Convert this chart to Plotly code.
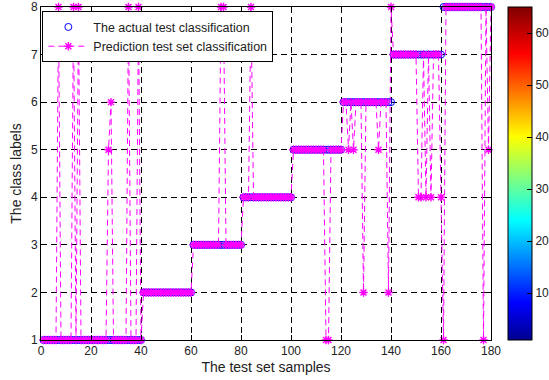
import plotly.graph_objects as go

# sample index (1..180)
samples = list(range(1, 181))

# actual class labels of the test set
actual_labels = (
    [1, 1, 1, 1, 1, 1, 1, 1, 1, 1, 1, 1, 1, 1, 1, 1, 1, 1, 1, 1,
     1, 1, 1, 1, 1, 1, 1, 1, 1, 1, 1, 1, 1, 1, 1, 1, 1, 1, 1, 1,
     2, 2, 2, 2, 2, 2, 2, 2, 2, 2, 2, 2, 2, 2, 2, 2, 2, 2, 2, 2,
     3, 3, 3, 3, 3, 3, 3, 3, 3, 3, 3, 3, 3, 3, 3, 3, 3, 3, 3, 3,
     4, 4, 4, 4, 4, 4, 4, 4, 4, 4, 4, 4, 4, 4, 4, 4, 4, 4, 4, 4,
     5, 5, 5, 5, 5, 5, 5, 5, 5, 5, 5, 5, 5, 5, 5, 5, 5, 5, 5, 5,
     6, 6, 6, 6, 6, 6, 6, 6, 6, 6, 6, 6, 6, 6, 6, 6, 6, 6, 6, 6,
     7, 7, 7, 7, 7, 7, 7, 7, 7, 7, 7, 7, 7, 7, 7, 7, 7, 7, 7, 7,
     8, 8, 8, 8, 8, 8, 8, 8, 8, 8, 8, 8, 8, 8, 8, 8, 8, 8, 8, 8]
)

# predicted class labels of the test set
predicted_labels = (
    [1, 1, 1, 1, 1, 1, 8, 1, 1, 1, 1, 1, 8, 1, 8, 1, 1, 1, 1, 1,
     1, 1, 1, 1, 1, 1, 5, 6, 1, 1, 1, 1, 1, 1, 8, 1, 1, 1, 8, 1,
     2, 2, 2, 2, 2, 2, 2, 2, 2, 2, 2, 2, 2, 2, 2, 2, 2, 2, 2, 2,
     3, 3, 3, 3, 3, 3, 3, 3, 3, 3, 3, 8, 8, 3, 3, 3, 3, 3, 3, 3,
     4, 4, 4, 8, 4, 4, 4, 4, 4, 4, 4, 4, 4, 4, 4, 4, 4, 4, 4, 4,
     5, 5, 5, 5, 5, 5, 5, 5, 5, 5, 5, 5, 5, 1, 1, 5, 5, 5, 5, 5,
     6, 6, 5, 6, 5, 6, 6, 6, 2, 6, 6, 6, 6, 6, 5, 6, 6, 6, 2, 8,
     7, 7, 7, 7, 7, 7, 7, 7, 7, 7, 4, 4, 7, 4, 7, 4, 7, 7, 7, 4,
     1, 8, 8, 8, 8, 8, 8, 8, 8, 8, 8, 8, 8, 8, 8, 8, 1, 8, 5, 8]
)

x_ticks = [0, 20, 40, 60, 80, 100, 120, 140, 160, 180]
y_ticks = [1, 2, 3, 4, 5, 6, 7, 8]
cbar_ticks = [10, 20, 30, 40, 50, 60]
cbar_range = [1, 65]

jet = [[0.0, "#00008F"], [0.11, "#0000FF"], [0.36, "#00FFFF"],
       [0.61, "#FFFF00"], [0.86, "#FF0000"], [1.0, "#800000"]]

FONT = "Liberation Sans, Arial, sans-serif"

fig = go.Figure()

fig.add_trace(go.Scatter(
    x=samples, y=actual_labels, mode="markers",
    name="The actual test classification",
    marker=dict(symbol="circle-open", size=7, color="#0000FF",
                line=dict(width=1, color="#0000FF")),
    cliponaxis=False,
))

fig.add_trace(go.Scatter(
    x=samples, y=predicted_labels, mode="lines+markers",
    name="Prediction test set classification",
    line=dict(color="#FF00FF", width=1, dash="6px,4px"),
    marker=dict(symbol="asterisk-open", size=7, color="#FF00FF",
                line=dict(width=1.4, color="#FF00FF")),
    cliponaxis=False,
))

# dummy trace to carry the colorbar
fig.add_trace(go.Scatter(
    x=[-100], y=[-100], mode="markers", showlegend=False, hoverinfo="skip",
    marker=dict(size=1, color=cbar_range, colorscale=jet,
                cmin=cbar_range[0], cmax=cbar_range[1], showscale=True,
                colorbar=dict(
                    x=1.0378, xanchor="left", xref="paper",
                    y=0.5, yanchor="middle", len=1.0, lenmode="fraction",
                    ypad=0, xpad=0, thickness=24,
                    outlinewidth=1, outlinecolor="black",
                    tickvals=cbar_ticks, ticks="inside", ticklen=5,
                    tickcolor="black",
                    tickfont=dict(family=FONT, size=12, color="#222"),
                )),
))

axis_common = dict(
    showline=True, linecolor="black", linewidth=1, mirror="ticks",
    ticks="inside", ticklen=5, tickcolor="black",
    showgrid=True, gridcolor="black", gridwidth=1, griddash="6px,4px",
    zeroline=False,
    tickfont=dict(family=FONT, size=12, color="#222"),
)

fig.update_xaxes(range=[0, 180], tickvals=x_ticks,
                 title=dict(text="The test set samples", standoff=4,
                            font=dict(family=FONT, size=14, color="#222")),
                 **axis_common)
fig.update_yaxes(range=[1, 8], tickvals=y_ticks,
                 title=dict(text="The class labels", standoff=6,
                            font=dict(family=FONT, size=14, color="#222")),
                 **axis_common)

fig.update_layout(
    width=549, height=380,
    margin=dict(l=41, r=58, t=7, b=40, autoexpand=False),
    paper_bgcolor="white", plot_bgcolor="white",
    font=dict(family=FONT, size=12, color="#222"),
    legend=dict(x=0.003, y=0.987, xanchor="left", yanchor="top",
                bgcolor="white", bordercolor="black", borderwidth=1,
                font=dict(family=FONT, size=12.5, color="#222"),
                tracegroupgap=0, itemwidth=40),
    showlegend=True,
)

fig.write_html("out.html")
